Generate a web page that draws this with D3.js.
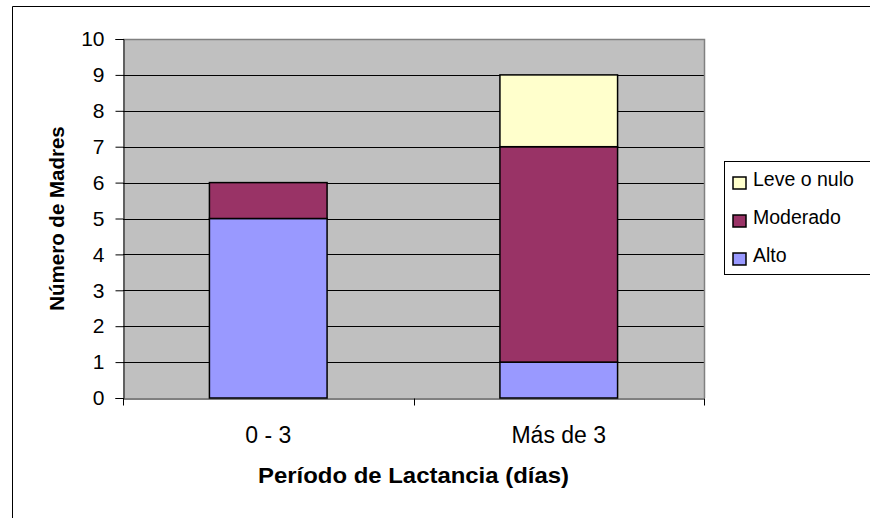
<!DOCTYPE html>
<html lang="es">
<head>
<meta charset="UTF-8">
<title>Número de Madres por Período de Lactancia</title>
<script src="https://d3js.org/d3.v7.min.js"></script>
<style>
  body { margin: 0; background: #fff; }
  text { font-family: "Liberation Sans", Arial, sans-serif; }
</style>
</head>
<body>
<svg id="main" width="870" height="518"></svg>
<script>
// data
const categories = ['0 - 3', 'Más de 3'];
const seriesNames = ['Alto', 'Moderado', 'Leve o nulo'];
const alto = [5, 1];
const moderado = [1, 6];
const leve = [0, 2];
const yTicks = [0, 1, 2, 3, 4, 5, 6, 7, 8, 9, 10];
const colors = ['#9999ff', '#993366', '#ffffcc'];

const rows = categories.map((c, i) => ({cat: c, 'Alto': alto[i], 'Moderado': moderado[i], 'Leve o nulo': leve[i]}));

let svg = d3.select('#main');
let plot = {left: 123, right: 704, top: 39, bottom: 398};
const fontFam = '"Liberation Sans", Arial, sans-serif';

// outer chart border (only left/top visible)
svg.append('path')
    .attr('d', 'M12.5,520 L12.5,6.5 L872,6.5')
    .attr('fill', 'none').attr('stroke', '#000').attr('stroke-width', 1);

let x = d3.scaleBand().domain(categories).range([plot.left, plot.right]).paddingInner(0).paddingOuter(0);
let y = d3.scaleLinear().domain([0, 10]).range([plot.bottom, plot.top]);

// plot background
svg.append('rect')
    .attr('x', plot.left).attr('y', plot.top)
    .attr('width', plot.right - plot.left).attr('height', plot.bottom - plot.top)
    .attr('fill', '#c0c0c0');

// gridlines
svg.append('g').selectAll('line').data(yTicks.slice(1, -1)).enter().append('line')
    .attr('x1', plot.left).attr('x2', plot.right)
    .attr('y1', d => Math.round(y(d)) + 0.5).attr('y2', d => Math.round(y(d)) + 0.5)
    .attr('stroke', '#000').attr('stroke-width', 1);

// top/right border of plot area
svg.append('path')
    .attr('d', `M${plot.left},${plot.top + 0.5} L${plot.right + 0.5},${plot.top + 0.5} L${plot.right + 0.5},${plot.bottom}`)
    .attr('fill', 'none').attr('stroke', '#808080').attr('stroke-width', 1.5);

// stacked bars
let stack = d3.stack().keys(seriesNames)(rows);
let barW = x.bandwidth() * 0.405;
svg.append('g').selectAll('g').data(stack).enter().append('g')
    .attr('fill', (d, i) => colors[i])
    .selectAll('rect').data(d => d.filter(p => p[1] - p[0] > 0)).enter().append('rect')
    .attr('x', d => x(d.data.cat) + (x.bandwidth() - barW) / 2)
    .attr('y', d => y(d[1]))
    .attr('width', barW)
    .attr('height', d => y(d[0]) - y(d[1]))
    .attr('stroke', '#000').attr('stroke-width', 1.5);

// y axis
let yAxis = d3.axisLeft(y).tickValues(yTicks).tickSize(8).tickPadding(11).tickFormat(d3.format('d'));
let gy = svg.append('g').attr('transform', `translate(${plot.left + 0.5},0)`).call(yAxis);
gy.select('.domain').attr('stroke', '#000');
gy.selectAll('text').attr('font-size', 21).attr('fill', '#000').style('font-family', fontFam);

// x axis
let xAxis = d3.axisBottom(x).tickSize(0).tickPadding(0);
let gx = svg.append('g').attr('transform', `translate(0,${plot.bottom + 0.5})`).call(xAxis);
gx.select('.domain').attr('stroke', '#000');
gx.selectAll('text').attr('font-size', 23).attr('fill', '#000').attr('dy', 0).attr('y', 44)
    .style('font-family', fontFam);
// category boundary ticks
let bounds = categories.map(c => x(c)).concat([x.range()[1]]);
gx.selectAll('line.bound').data(bounds).enter().append('line')
    .attr('class', 'bound')
    .attr('x1', d => Math.round(d) + 0.5).attr('x2', d => Math.round(d) + 0.5)
    .attr('y1', 0).attr('y2', 7).attr('stroke', '#000');

// axis titles
svg.append('text')
    .attr('x', (plot.left + plot.right) / 2).attr('y', 483)
    .attr('text-anchor', 'middle').attr('font-size', 22).attr('font-weight', 'bold')
    .attr('textLength', 311).attr('lengthAdjust', 'spacingAndGlyphs')
    .text('Período de Lactancia (días)');
svg.append('text')
    .attr('transform', `translate(64,${(plot.top + plot.bottom) / 2}) rotate(-90)`)
    .attr('text-anchor', 'middle').attr('font-size', 20.5).attr('font-weight', 'bold')
    .text('Número de Madres');

// legend
let lg = svg.append('g');
lg.append('rect').attr('x', 724.5).attr('y', 161.5).attr('width', 160).attr('height', 113)
    .attr('fill', '#fff').attr('stroke', '#000');
let legendItems = seriesNames.slice().reverse();
let legendColors = colors.slice().reverse();
legendItems.forEach((name, i) => {
    let base = 186 + i * 38;
    lg.append('rect').attr('x', 733).attr('y', base - 9).attr('width', 13).attr('height', 12)
        .attr('fill', legendColors[i]).attr('stroke', '#000').attr('stroke-width', 1.5);
    lg.append('text').attr('x', 753).attr('y', base).attr('font-size', 19.5).text(name);
});
</script>
</body>
</html>
